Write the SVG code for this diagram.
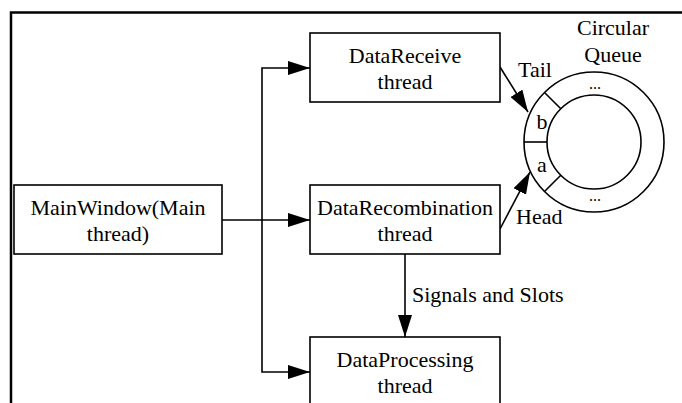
<svg xmlns="http://www.w3.org/2000/svg" width="682" height="403" viewBox="0 0 682 403">
  <style>
    .box { fill: #fff; stroke: #000; stroke-width: 1.6; }
    .ln { fill: none; stroke: #000; stroke-width: 1.6; }
    .t { font-family: "Liberation Serif", "Times New Roman", serif; font-size: 22px; fill: #000; }
    .c { text-anchor: middle; }
  </style>
  <defs>
    <marker id="arrow" markerUnits="userSpaceOnUse" markerWidth="22" markerHeight="14" refX="22" refY="7" orient="auto">
      <path d="M0,0 L22,7 L0,14 Z" fill="#000"/>
    </marker>
  </defs>
  <rect width="682" height="403" fill="#fff"/>

  <!-- outer frame (top and left edges) -->
  <path d="M11,403 V12.5 H682" fill="none" stroke="#000" stroke-width="2.5"/>

  <!-- connectors -->
  <g id="connectors">
    <line class="ln" x1="222" y1="220" x2="310" y2="220" marker-end="url(#arrow)"/>
    <path class="ln" d="M262,220 V68 H310" marker-end="url(#arrow)"/>
    <path class="ln" d="M262,220 V372 H310" marker-end="url(#arrow)"/>
    <line class="ln" x1="405" y1="254" x2="405" y2="337" marker-end="url(#arrow)"/>
    <line class="ln" x1="500" y1="67" x2="528" y2="112" marker-end="url(#arrow)"/>
    <line class="ln" x1="500" y1="229" x2="530" y2="172" marker-end="url(#arrow)"/>
    <text class="t" x="412" y="302">Signals and Slots</text>
    <text class="t" x="518" y="77">Tail</text>
    <text class="t" x="516" y="224">Head</text>
  </g>

  <g id="mainwindow">
    <rect class="box" x="14" y="185" width="208" height="69"/>
    <text class="t c" x="118" y="215">MainWindow(Main</text>
    <text class="t c" x="118" y="241">thread)</text>
  </g>

  <g id="datareceive">
    <rect class="box" x="310" y="33" width="190" height="69"/>
    <text class="t c" x="405" y="63">DataReceive</text>
    <text class="t c" x="405" y="89">thread</text>
  </g>

  <g id="datarecombination">
    <rect class="box" x="310" y="185" width="190" height="69"/>
    <text class="t c" x="405" y="215">DataRecombination</text>
    <text class="t c" x="405" y="241">thread</text>
  </g>

  <g id="dataprocessing">
    <rect class="box" x="310" y="337" width="190" height="69"/>
    <text class="t c" x="405" y="367">DataProcessing</text>
    <text class="t c" x="405" y="393">thread</text>
  </g>

  <g id="circular-queue">
    <circle class="ln" cx="594" cy="142" r="70"/>
    <circle class="ln" cx="594" cy="142" r="47"/>
    <line class="ln" x1="524" y1="142" x2="547" y2="142"/>
    <line class="ln" x1="544.5" y1="92.5" x2="560.8" y2="108.8"/>
    <line class="ln" x1="544.5" y1="191.5" x2="560.8" y2="175.2"/>
    <text class="t c" x="542" y="129">b</text>
    <text class="t c" x="542" y="172">a</text>
    <text class="t c" x="595" y="89" style="font-size:16px">...</text>
    <text class="t c" x="595" y="201" style="font-size:16px">...</text>
    <text class="t c" x="613" y="35">Circular</text>
    <text class="t c" x="613" y="62">Queue</text>
  </g>
</svg>
